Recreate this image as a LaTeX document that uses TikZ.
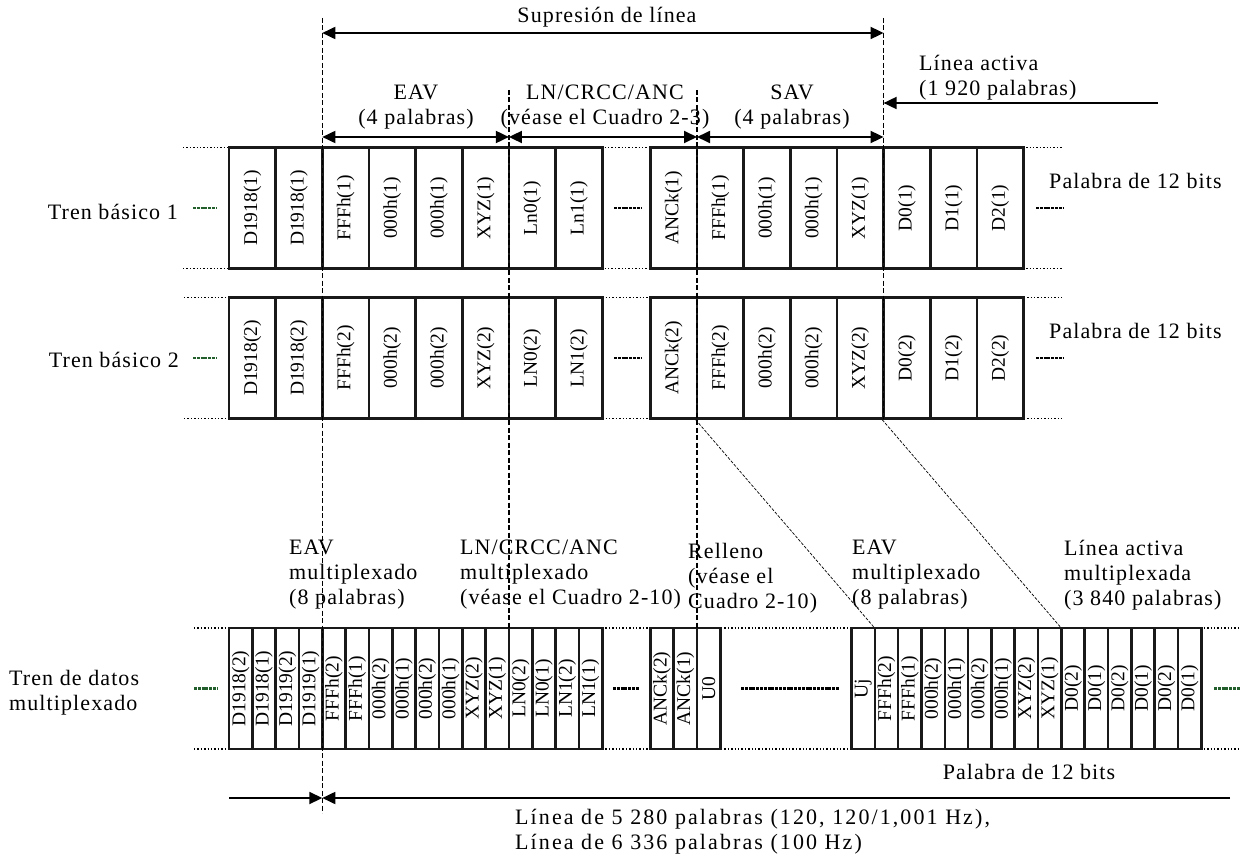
\documentclass[tikz,border=0pt]{standalone}
\usepackage{fontspec}
\setmainfont{Liberation Serif}
\newfontfamily\lblfont[LetterSpace=5]{Liberation Serif}
\newfontfamily\botfont[LetterSpace=9.5]{Liberation Serif}
\usetikzlibrary{arrows.meta}
\definecolor{mkgreen}{RGB}{35,95,45}
\begin{document}
\begin{tikzpicture}[x=1pt,y=-1pt,
 cell/.style={draw=black!90, line width=2.6pt, fill=white, rotate=90, minimum width=121pt, inner sep=0pt, font=\fontsize{19.5}{20}\selectfont},
 wide/.style={cell, minimum height=46.65pt},
 narrow/.style={cell, minimum height=23.325pt},
 lbl/.style={font=\lblfont\fontsize{22}{25}\selectfont, inner sep=0pt},
 guide/.style={line width=1.3pt, dash pattern=on 5pt off 2.5pt},
 diag/.style={line width=0.7pt, dash pattern=on 3pt off 1.5pt},
 dotline/.style={line width=1.4pt, dotted},
 mk/.style={line width=2.2pt, dash pattern=on 3pt off 0.8pt},
 dimarrow/.style={line width=1.8pt, {Triangle[length=13pt,width=12pt]}-{Triangle[length=13pt,width=12pt]}},
 ptr/.style={line width=1.8pt, -{Triangle[length=13pt,width=12pt]}},
]
\useasboundingbox (0,0) rectangle (1242,856);
% dotted row edges
\foreach \y in {147.5,268.5} {\draw[dotline] (183,\y) -- (1062,\y);}
\foreach \y in {297.5,418.5} {\draw[dotline] (184,\y) -- (1062,\y);}
\foreach \y in {628,749} {\draw[dotline] (194,\y) -- (1240,\y);}
% stream 1
\foreach \t [count=\i from 0] in {D1918(1),D1918(1),FFFh(1),000h(1),000h(1),XYZ(1),Ln0(1),Ln1(1)}
  \node[wide] (sa\i) at ({229+(\i+0.5)*46.65},208) {\t};
\foreach \t [count=\i from 0] in {ANCk(1),FFFh(1),000h(1),000h(1),XYZ(1),D0(1),D1(1),D2(1)}
  \node[wide] (sb\i) at ({650.35+(\i+0.5)*46.65},208) {\t};
% stream 2
\foreach \t [count=\i from 0] in {D1918(2),D1918(2),FFFh(2),000h(2),000h(2),XYZ(2),LN0(2),LN1(2)}
  \node[wide] (ta\i) at ({229+(\i+0.5)*46.65},358) {\t};
\foreach \t [count=\i from 0] in {ANCk(2),FFFh(2),000h(2),000h(2),XYZ(2),D0(2),D1(2),D2(2)}
  \node[wide] (tb\i) at ({650.35+(\i+0.5)*46.65},358) {\t};
% multiplexed stream
\foreach \t [count=\i from 0] in {D1918(2),D1918(1),D1919(2),D1919(1),FFFh(2),FFFh(1),000h(2),000h(1),000h(2),000h(1),XYZ(2),XYZ(1),LN0(2),LN0(1),LN1(2),LN1(1)}
  \node[narrow] (ma\i) at ({229+(\i+0.5)*23.325},688.5) {\t};
\foreach \t [count=\i from 0] in {ANCk(2),ANCk(1),U0}
  \node[narrow] (mb\i) at ({650.35+(\i+0.5)*23.325},688.5) {\t};
\foreach \t [count=\i from 0] in {Uj,FFFh(2),FFFh(1),000h(2),000h(1),000h(2),000h(1),XYZ(2),XYZ(1),D0(2),D0(1),D0(2),D0(1),D0(2),D0(1)}
  \node[narrow] (mc\i) at ({851.5+(\i+0.5)*23.325},688.5) {\t};
% ellipsis markers
\draw[mk, mkgreen] (193,208) -- (216,208);
\draw[mk] (614,208) -- (641,208);
\draw[mk] (1036,208) -- (1064,208);
\draw[mk, mkgreen] (193,358) -- (216,358);
\draw[mk] (614,358) -- (641,358);
\draw[mk] (1036,358) -- (1064,358);
\draw[mk, mkgreen] (194,688.5) -- (217,688.5);
\draw[mk] (613,688.5) -- (639,688.5);
\draw[mk] (741,688.5) -- (839,688.5);
\draw[mk, mkgreen] (1214,688.5) -- (1240,688.5);
% labels
\node[lbl] (sup) at (607,17) {Supresión de línea};
\node[lbl, align=center] (eav) at (416,107.5) {EAV\\(4 palabras)};
\node[lbl, align=center] (lnc) at (605,107.5) {LN/CRCC/ANC\\(véase el Cuadro 2-3)};
\node[lbl, align=center] (sav) at (792,107.5) {SAV\\(4 palabras)};
\node[lbl, align=left, anchor=west] (act) at (919,77.5) {Línea activa\\(1 920 palabras)};
\node[lbl, anchor=east] (lb1) at (178,212) {Tren básico 1};
\node[lbl, anchor=east] (lb2) at (179,360) {Tren básico 2};
\node[lbl, align=left, anchor=west] (tdm) at (9,693) {Tren de datos\\multiplexado};
\node[lbl, anchor=west] (pw1) at (1049,181) {Palabra de 12 bits};
\node[lbl, anchor=west] (pw2) at (1049,331) {Palabra de 12 bits};
\node[lbl] (pw3) at (1029,772) {Palabra de 12 bits};
\node[lbl, align=left, anchor=west] (meav) at (289,575) {EAV\\multiplexado\\(8 palabras)};
\node[lbl, align=left, anchor=west] (mlnc) at (460,575) {LN/CRCC/ANC\\multiplexado\\(véase el Cuadro 2-10)};
\node[lbl, align=left, anchor=west] (mrel) at (688,578) {Relleno\\(véase el\\Cuadro 2-10)};
\node[lbl, align=left, anchor=west] (meav2) at (852,575) {EAV\\multiplexado\\(8 palabras)};
\node[lbl, align=left, anchor=west] (mact) at (1064,575) {Línea activa\\multiplexada\\(3 840 palabras)};
\node[font=\botfont\fontsize{22}{25}\selectfont, inner sep=0pt, align=left, anchor=west] (tot) at (515,832) {Línea de 5 280 palabras (120, 120/1,001 Hz),\\Línea de 6 336 palabras (100 Hz)};
% guide lines
\coordinate (g1t) at (322.3,18);  \coordinate (g1b) at (322.3,813);
\coordinate (g2t) at (508.9,90);  \coordinate (g2b) at (508.9,628);
\coordinate (g3t) at (697.0,90);  \coordinate (g3b) at (697.0,628);
\coordinate (g4t) at (883.6,18);  \coordinate (g4b) at (883.6,418.5);
\draw[guide] (g1t) -- (g1b);
\draw[guide] (g2t) -- (g2b);
\draw[guide] (g3t) -- (g3b);
\draw[guide] (g4t) -- (g4b);
% diagonals
\draw[diag] (tb1.north west) -- (mc1.north east);
\draw[diag] (tb5.north west) -- (mc9.north east);
% dimension arrows
\draw[dimarrow] (322.3,33) -- (883.6,33);
\draw[dimarrow] (322.3,137) -- (508.9,137);
\draw[dimarrow] (508.9,137) -- (697.0,137);
\draw[dimarrow] (697.0,137) -- (883.6,137);
\coordinate (actS) at (1158,103);
\coordinate (actE) at (883.6,103);
\draw[ptr] (actS) -- (actE);
\coordinate (botL) at (229,798);
\coordinate (botM) at (322.3,798);
\coordinate (botR) at (1230,798);
\draw[ptr] (botL) -- (botM);
\draw[ptr] (botR) -- (botM);
\end{tikzpicture}
\end{document}
